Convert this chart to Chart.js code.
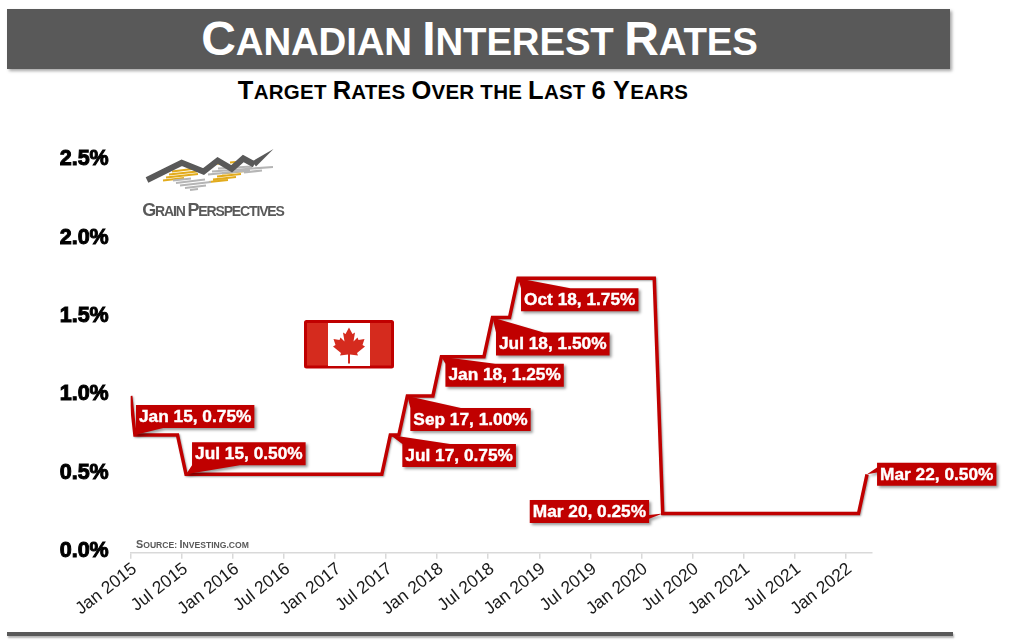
<!DOCTYPE html>
<html>
<head>
<meta charset="utf-8">
<title>Canadian Interest Rates</title>
<script src="https://cdn.jsdelivr.net/npm/chart.js@4/dist/chart.umd.min.js"></script>
<style>
    html, body { margin: 0; padding: 0; background: #fff; }
    body { width: 1012px; height: 642px; position: relative; overflow: hidden; font-family: "Liberation Sans", Arial, sans-serif; }
    canvas { position: absolute; left: 0; top: 0; }
    .art { position: absolute; left: 0; top: 0; }
    .band { position: absolute; left: 7px; top: 9px; width: 943px; height: 60px; background: #595959; box-shadow: 2px 2px 3px rgba(0,0,0,.35); }
    .rule { position: absolute; left: 7px; top: 632px; width: 946px; height: 4px; background: #595959; box-shadow: 1px 2px 2px rgba(0,0,0,.3); }
    h1, h2, .brand, .source { position: absolute; margin: 0; white-space: nowrap; font-weight: bold; text-align: center; }
    h1 { left: 0; top: 9px; width: 959px; line-height: 60px; font-size: 38.4px; color: #fff; letter-spacing: -.15px; }
    h1 b { font-size: 48px; }
    h2 { left: 0; top: 74px; width: 926px; line-height: 32px; font-size: 20.5px; color: #000; letter-spacing: .25px; }
    h2 b { font-size: 25.5px; }
    .brand { left: 142px; top: 199px; width: 142px; line-height: 22px; font-size: 14px; color: #595959; letter-spacing: -1.15px; }
    .brand b { font-size: 18px; }
    .source { left: 136px; top: 537px; width: 116px; line-height: 14px; font-size: 8.6px; color: #595959; text-align: left; }
    .source b { font-size: 10.8px; }
</style>
</head>
<body>
<div class="band"></div>
<h1><b>C</b>ANADIAN <b>I</b>NTEREST <b>R</b>ATES</h1>
<h2><b>T</b>ARGET <b>R</b>ATES <b>O</b>VER THE <b>L</b>AST <b>6 Y</b>EARS</h2>
<canvas id="rateChart" width="1012" height="642"></canvas>
<svg class="art" width="1012" height="642">
    <!-- logo -->
    <g fill="none" stroke-width="2.1">
        <g stroke="#e2ab1c">
            <path d="M172 171.5 L192 169 M169 174.5 L197 171.5 M166 177.5 L198 174 M163 180.5 L184 178"/>
            <path d="M222 173.5 L245 171 M217 176.5 L241 174 M213 179.5 L236 177 M209 182 L228 180"/>
            <path d="M216 163.5 L224 164 M230 162.5 L236 162"/>
        </g>
        <g stroke="#b5b5b5">
            <path d="M173 180.5 L191 178.5 M176 183 L205 179.5 M180 185.5 L211 182 M185 188 L206 185.5 M190 190 L198 189"/>
            <path d="M212 171.5 L273 167 M208 174.5 L250 170.5 M218 168.5 L252 166.5 M244 172.5 L262 170.5"/>
        </g>
    </g>
    <path d="M147 180 L181.7 162.8 L203.5 171.5 L217.7 160.5 L231.7 168.8 L243.3 158.5 L254.3 164.5" fill="none" stroke="#595959" stroke-width="6"/>
    <polygon points="252,161.5 273.5,149 256,166.5" fill="#595959"/>
    <!-- flag -->
    <rect x="305.5" y="321.5" width="87" height="45.5" rx="1" fill="#d52b1e" stroke="#c00000" stroke-width="3"/>
    <rect x="328" y="323" width="42" height="43" fill="#fff"/>
    <polygon fill="#d52b1e" transform="translate(349 327.5)" points="0,0 3.5,6.5 6,5 4.5,14 8.5,10 9.5,12.5 15.5,11.5 13.5,17.5 16,19 8,25.5 9,28 1,27 1,36 -1,36 -1,27 -9,28 -8,25.5 -16,19 -13.5,17.5 -15.5,11.5 -9.5,12.5 -8.5,10 -4.5,14 -6,5 -3.5,6.5"/>
</svg>
<div class="brand"><b>G</b>RAIN <b>P</b>ERSPECTIVES</div>
<div class="source"><b>S</b>OURCE: <b>I</b>NVESTING.COM</div>
<div class="rule"></div>

<script>
'use strict';

{
    const tickLabels = ['Jan 2015', 'Jul 2015', 'Jan 2016', 'Jul 2016', 'Jan 2017', 'Jul 2017', 'Jan 2018', 'Jul 2018',
        'Jan 2019', 'Jul 2019', 'Jan 2020', 'Jul 2020', 'Jan 2021', 'Jul 2021', 'Jan 2022'];
    const monthNames = ['Jan', 'Feb', 'Mar', 'Apr', 'May', 'Jun', 'Jul', 'Aug', 'Sep', 'Oct', 'Nov', 'Dec'];

    // target rate at the start of the axis, before the January 2015 cut
    const openingRate = 1.00;

    // target rate for each month, one row per year from 2015
    const monthlyRates = [
        0.75, 0.75, 0.75, 0.75, 0.75, 0.75, 0.50, 0.50, 0.50, 0.50, 0.50, 0.50,
        0.50, 0.50, 0.50, 0.50, 0.50, 0.50, 0.50, 0.50, 0.50, 0.50, 0.50, 0.50,
        0.50, 0.50, 0.50, 0.50, 0.50, 0.50, 0.75, 0.75, 1.00, 1.00, 1.00, 1.00,
        1.25, 1.25, 1.25, 1.25, 1.25, 1.25, 1.50, 1.50, 1.50, 1.75, 1.75, 1.75,
        1.75, 1.75, 1.75, 1.75, 1.75, 1.75, 1.75, 1.75, 1.75, 1.75, 1.75, 1.75,
        1.75, 1.75, 0.25, 0.25, 0.25, 0.25, 0.25, 0.25, 0.25, 0.25, 0.25, 0.25,
        0.25, 0.25, 0.25, 0.25, 0.25, 0.25, 0.25, 0.25, 0.25, 0.25, 0.25, 0.25,
        0.25, 0.25, 0.50
    ];

    // months (counted from Jan 2015) that get a callout
    const calloutMonths = [0, 6, 30, 32, 36, 42, 45, 62, 86];

    // box offset from its point, and which edge the wedge leaves from
    const calloutLayout = [
        {dx: 1, dy: -30, side: 'bottom', from: 0, to: 0.23},
        {dx: 6, dy: -32, side: 'bottom', from: 0, to: 0.42},
        {dx: 12, dy: 9, side: 'top', from: 0, to: 0.42},
        {dx: 3, dy: 12, side: 'top', from: 0, to: 0.42},
        {dx: 4, dy: 7, side: 'top', from: 0, to: 0.42},
        {dx: 3.5, dy: 15, side: 'top', from: 0, to: 0.42},
        {dx: 3, dy: 10, side: 'top', from: 0, to: 0.42},
        {dx: -133, dy: -13.5, side: 'right', from: 0.65, to: 0.82},
        {dx: 10, dy: -11.5, side: 'left', from: 0.2, to: 0.42}
    ];

    const red = '#c00000';

    const calloutText = function(month) {
        const year = 15 + Math.floor(month / 12);
        return monthNames[month % 12] + ' ' + year + ', ' + monthlyRates[month].toFixed(2) + '%';
    };

    /*soft shadow under the rate line*/

    const lineShadow = {
        id: 'lineShadow',
        beforeDatasetDraw(chart) {
            chart.ctx.save();
            chart.ctx.shadowColor = 'rgba(0,0,0,.35)';
            chart.ctx.shadowBlur = 2;
            chart.ctx.shadowOffsetX = 1;
            chart.ctx.shadowOffsetY = 1;
        },
        afterDatasetDraw(chart) {
            chart.ctx.restore();
        }
    };

    /*wedge callouts on the rate changes*/

    const callouts = {
        id: 'callouts',
        afterDatasetsDraw(chart) {
            const ctx = chart.ctx;
            const xScale = chart.scales.x;
            const yScale = chart.scales.y;

            calloutMonths.forEach(function(month, i) {
                const layout = calloutLayout[i];
                const text = calloutText(month);
                const tipX = xScale.getPixelForValue(month + 0.5);
                const tipY = yScale.getPixelForValue(monthlyRates[month]);

                ctx.save();
                ctx.font = 'bold 17.3px "Liberation Sans", Arial, sans-serif';
                const w = ctx.measureText(text).width + 6;
                const h = 23;
                const x = tipX + layout.dx;
                const y = tipY + layout.dy;

                ctx.beginPath();
                ctx.moveTo(tipX, tipY);
                if (layout.side === 'top') {
                    ctx.lineTo(x + w * layout.to, y);
                    ctx.lineTo(x + w, y);
                    ctx.lineTo(x + w, y + h);
                    ctx.lineTo(x, y + h);
                    ctx.lineTo(x, y);
                } else if (layout.side === 'bottom') {
                    ctx.lineTo(x + w * layout.to, y + h);
                    ctx.lineTo(x + w, y + h);
                    ctx.lineTo(x + w, y);
                    ctx.lineTo(x, y);
                    ctx.lineTo(x, y + h);
                } else if (layout.side === 'right') {
                    ctx.lineTo(x + w, y + h * layout.to);
                    ctx.lineTo(x + w, y + h);
                    ctx.lineTo(x, y + h);
                    ctx.lineTo(x, y);
                    ctx.lineTo(x + w, y);
                    ctx.lineTo(x + w, y + h * layout.from);
                } else {
                    ctx.lineTo(x, y + h * layout.from);
                    ctx.lineTo(x, y);
                    ctx.lineTo(x + w, y);
                    ctx.lineTo(x + w, y + h);
                    ctx.lineTo(x, y + h);
                    ctx.lineTo(x, y + h * layout.to);
                }
                ctx.closePath();
                ctx.shadowColor = 'rgba(0,0,0,.4)';
                ctx.shadowBlur = 3;
                ctx.shadowOffsetX = 2;
                ctx.shadowOffsetY = 2;
                ctx.fillStyle = red;
                ctx.fill();

                ctx.shadowColor = 'transparent';
                ctx.fillStyle = '#fff';
                ctx.strokeStyle = '#fff';
                ctx.lineWidth = 0.4;
                ctx.textBaseline = 'middle';
                ctx.textAlign = 'left';
                ctx.strokeText(text, x + 3, y + h / 2 + 0.5);
                ctx.fillText(text, x + 3, y + h / 2 + 0.5);
                ctx.restore();
            });
        }
    };

    const points = [{x: 0, y: openingRate}].concat(monthlyRates.map(function(rate, month) {
        return {x: month + 0.5, y: rate};
    }));

    new Chart(document.getElementById('rateChart').getContext('2d'), {
        type: 'line',
        data: {
            datasets: [{
                data: points,
                borderColor: red,
                borderWidth: 3.5,
                borderJoinStyle: 'miter',
                pointRadius: 0,
                tension: 0,
                clip: 0
            }]
        },
        options: {
            responsive: false,
            animation: false,
            layout: { padding: { left: 0, right: 140.7, top: 160.7, bottom: 0 } },
            plugins: { legend: { display: false }, tooltip: { enabled: false } },
            scales: {
                x: {
                    type: 'linear',
                    min: 0,
                    max: monthlyRates.length,
                    afterFit(scale) { scale.height = 89.3; },
                    border: { color: '#d9d9d9', width: 1.5 },
                    grid: { drawOnChartArea: false, color: '#d9d9d9', lineWidth: 1.5, tickLength: 6 },
                    ticks: {
                        stepSize: 6,
                        includeBounds: false,
                        autoSkip: false,
                        minRotation: 38,
                        maxRotation: 38,
                        labelOffset: 4,
                        padding: 0,
                        color: '#1a1a1a',
                        font: { family: '"Liberation Sans", Arial, sans-serif', size: 17.5 },
                        callback(value) { return tickLabels[value / 6]; }
                    }
                },
                y: {
                    min: 0,
                    max: 2.5,
                    afterFit(scale) { scale.width = 130.7; },
                    border: { display: false },
                    grid: { display: false },
                    ticks: {
                        stepSize: 0.5,
                        padding: 14,
                        labelOffset: -1.5,
                        color: '#000',
                        textStrokeColor: '#000',
                        textStrokeWidth: 1,
                        font: { family: '"Liberation Sans", Arial, sans-serif', size: 21.5, weight: 'bold' },
                        callback(value) { return value.toFixed(1) + '%'; }
                    }
                }
            }
        },
        plugins: [lineShadow, callouts]
    });
}
</script>
</body>
</html>
